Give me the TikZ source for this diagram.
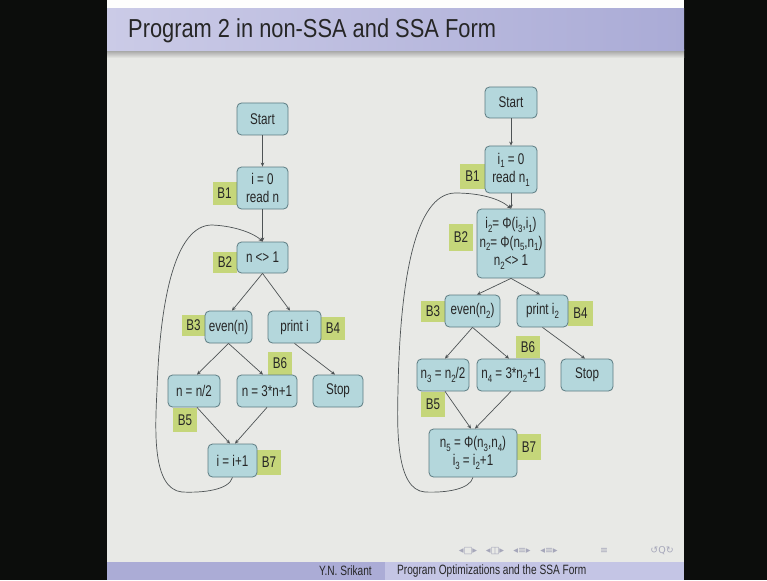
\documentclass[tikz,border=0pt]{standalone}
\usepackage{fontspec}
\setmainfont{Liberation Sans}[FakeStretch=0.75]
\newfontfamily\titlefont{Liberation Sans}[FakeStretch=0.84]
\newfontfamily\navfont{DejaVu Sans}
\usetikzlibrary{arrows.meta}

\definecolor{slidebg}{HTML}{E8E9E6}
\definecolor{boxfill}{HTML}{B4D7DC}
\definecolor{boxline}{HTML}{5C7B82}
\definecolor{tagfill}{HTML}{C5D67A}
\definecolor{edgecol}{HTML}{4E5355}
\definecolor{barL}{HTML}{CBCBE7}
\definecolor{barR}{HTML}{AAABD6}
\definecolor{footdark}{HTML}{ABACD6}
\definecolor{footlight}{HTML}{C4C5E5}
\definecolor{navcol}{HTML}{A6A7BA}
\definecolor{sidebar}{HTML}{0C0D0C}

% lowered index digit, as in i_1
\newcommand\lo[1]{\raisebox{-0.45ex}{\fontsize{10.5}{10.5}\selectfont #1}}

\tikzset{
  blk/.style={draw=boxline, fill=boxfill, rounded corners=4.5pt, line width=0.8pt,
    inner sep=0pt, align=center, text=black!85,
    font=\fontsize{15.5}{18.5}\selectfont},
  tag/.style={fill=tagfill, inner sep=0pt, minimum width=24pt, minimum height=23pt,
    text=black!85, font=\fontsize{15.5}{18}\selectfont},
  edge/.style={draw=edgecol, line width=0.7pt, -{Stealth[length=4pt,width=3.6pt]}},
  nav/.style={text=navcol, inner sep=0pt, font=\navfont\fontsize{9.5}{9.5}\selectfont}
}

\begin{document}
\begin{tikzpicture}[x=1pt,y=-1pt]
\useasboundingbox (0,0) rectangle (767,580);

% frame and slide background
\fill[sidebar] (0,0) rectangle (767,580);
\fill[slidebg] (107,0) rectangle (684,580);
\fill[white!94!slidebg] (107,0) rectangle (684,9);

% title bar with its shadow
\shade[top color=gray!75, bottom color=slidebg] (107,50) rectangle (684,58);
\shade[left color=barL, right color=barR] (107,9) rectangle (684,51);
\node[anchor=base west, inner sep=0pt, text=black!85,
      font=\titlefont\fontsize{26}{26}\selectfont] (title) at (128,38)
      {Program 2 in non-SSA and SSA Form};

% footline
\fill[footdark] (107,562) rectangle (385,580);
\fill[footlight] (385,562) rectangle (684,580);
\node[anchor=east, inner sep=0pt, text=black!85, font=\fontsize{13.5}{13.5}\selectfont]
  (author) at (372,571) {Y.N. Srikant};
\node[anchor=west, inner sep=0pt, text=black!85, font=\fontsize{13.5}{13.5}\selectfont]
  (short) at (397,571) {Program Optimizations and the SSA Form};

% navigation symbols
\node[nav] (nav1) at (468,551) {◂□▸};
\node[nav] (nav2) at (495,551) {◂◫▸};
\node[nav] (nav3) at (522,551) {◂≡▸};
\node[nav] (nav4) at (549,551) {◂≡▸};
\node[nav] (nav5) at (604,551) {≡};
\node[nav] (nav6) at (662,551) {↺Q↻};

% ---------------- non-SSA flow graph ----------------
\node[tag] (lb1) at (224.5,193.5) {B1};
\node[tag, minimum height=21pt] (lb2) at (225,262.5) {B2};
\node[tag, minimum height=21pt] (lb3) at (193.5,325) {B3};
\node[tag] (lb4) at (333,328.5) {B4};
\node[tag, minimum height=24pt] (lb5) at (185,420) {B5};
\node[tag] (lb6) at (280,363.5) {B6};
\node[tag, minimum height=25pt] (lb7) at (269,462.5) {B7};

\node[blk, minimum width=51pt, minimum height=32pt] (LS) at (262.5,119) {Start};
\node[blk, minimum width=51pt, minimum height=42pt] (L1) at (262.5,188) {i = 0\\read n};
\node[blk, minimum width=51pt, minimum height=31pt] (L2) at (262.5,257.5) {n <> 1};
\node[blk, minimum width=47pt, minimum height=32pt] (L3) at (228.5,327) {even(n)};
\node[blk, minimum width=53pt, minimum height=32pt] (L4) at (294.5,327) {print i};
\node[blk, minimum width=52pt, minimum height=32pt] (L5) at (194,391) {n = n/2};
\node[blk, minimum width=60pt, minimum height=32pt] (L6) at (267,391) {n = 3*n+1};
\node[blk, minimum width=50pt, minimum height=32pt] (LT) at (338,391) {Stop};
\node[blk, minimum width=49pt, minimum height=33pt] (L7) at (232.5,460.5) {i = i+1};

\draw[edge] (LS.south) -- (L1.north);
\draw[edge] (L1.south) -- (L2.north);
\draw[edge] (L2.south) -- ([xshift=3.5pt]L3.north);
\draw[edge] (L2.south) -- ([xshift=-4.5pt]L4.north);
\draw[edge] (L3.south) -- ([xshift=3pt]L5.north);
\draw[edge] (L3.south) -- ([xshift=-4pt]L6.north);
\draw[edge] (L4.south) -- ([xshift=-3pt]LT.north);
\draw[edge] ([xshift=3pt]L5.south) -- ([xshift=-2.5pt]L7.north);
\draw[edge] (L6.south) -- ([xshift=2.5pt]L7.north);
% loop back edge B7 -> B2
\draw[edge] (L7.south) .. controls (229,490) and (203,493) .. (182,492)
  .. controls (152,489) and (155,430) .. (157,390)
  .. controls (160,300) and (175,225) .. (212,225)
  .. controls (236,226) and (255,234) .. (L2.north);

% ---------------- SSA flow graph ----------------
\node[tag, minimum width=25pt, minimum height=25pt] (rb1) at (472.5,176.5) {B1};
\node[tag, minimum height=27pt] (rb2) at (461,237.5) {B2};
\node[tag, minimum height=21pt] (rb3) at (433,311.5) {B3};
\node[tag, minimum width=25pt, minimum height=25pt] (rb4) at (580.5,313.5) {B4};
\node[tag, minimum height=25pt] (rb5) at (433,404.5) {B5};
\node[tag, minimum height=22pt] (rb6) at (528,347) {B6};
\node[tag, minimum height=26pt] (rb7) at (529,447) {B7};

\node[blk, minimum width=52pt, minimum height=31pt] (RS) at (511,102.5) {Start};
\node[blk, minimum width=52pt, minimum height=47pt] (R1) at (511,169.5)
  {i\lo{1} = 0\\read n\lo{1}};
\node[blk, minimum width=68pt, minimum height=69pt] (R2) at (511,243.5)
  {i\lo{2}= Φ(i\lo{3},i\lo{1})\\n\lo{2}= Φ(n\lo{5},n\lo{1})\\n\lo{2}<> 1};
\node[blk, minimum width=55pt, minimum height=32pt] (R3) at (472.5,311) {even(n\lo{2})};
\node[blk, minimum width=51pt, minimum height=32pt] (R4) at (542.5,311) {print i\lo{2}};
\node[blk, minimum width=52pt, minimum height=32pt] (R5) at (443,375) {n\lo{3} = n\lo{2}/2};
\node[blk, minimum width=68pt, minimum height=32pt] (R6) at (511,375) {n\lo{4} = 3*n\lo{2}+1};
\node[blk, minimum width=52pt, minimum height=32pt] (RT) at (587,375) {Stop};
\node[blk, minimum width=88pt, minimum height=48pt] (R7) at (473,453)
  {n\lo{5} = Φ(n\lo{3},n\lo{4})\\i\lo{3} = i\lo{2}+1};

\draw[edge] (RS.south) -- (R1.north);
\draw[edge] (R1.south) -- (R2.north);
\draw[edge] (R2.south) -- ([xshift=4.5pt]R3.north);
\draw[edge] (R2.south) -- ([xshift=-2.5pt]R4.north);
\draw[edge] (R3.south) -- ([xshift=2pt]R5.north);
\draw[edge] (R3.south) -- ([xshift=-2pt]R6.north);
\draw[edge] (R4.south) -- ([xshift=-2pt]RT.north);
\draw[edge] ([xshift=2pt]R5.south) -- ([xshift=-2pt]R7.north);
\draw[edge] (R6.south) -- ([xshift=2pt]R7.north);
% loop back edge B7 -> B2
\draw[edge] (R7.south) .. controls (470,489) and (447,493) .. (425,492)
  .. controls (396,490) and (397,430) .. (398,390)
  .. controls (400,280) and (415,194) .. (455,193)
  .. controls (481,193) and (500,199) .. (R2.north);
\end{tikzpicture}
\end{document}
